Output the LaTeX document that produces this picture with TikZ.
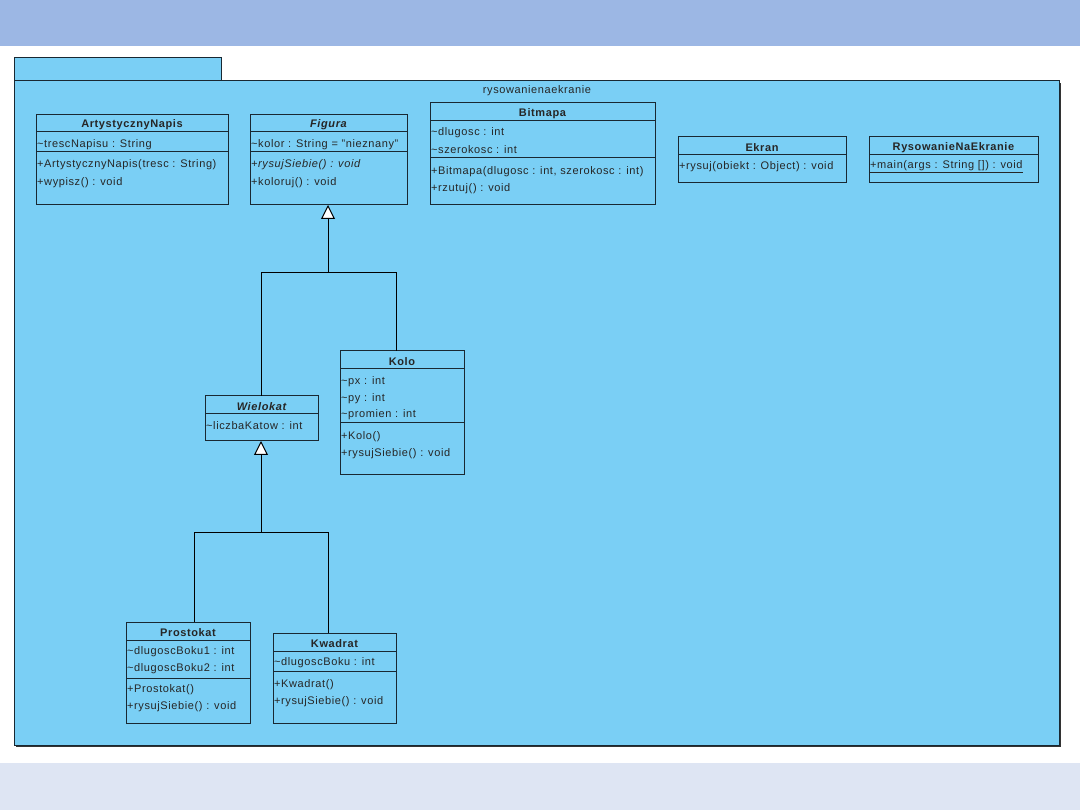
\documentclass[tikz,border=0pt]{standalone}
\usepackage{fontspec}
\setmainfont{Liberation Sans}[LetterSpace=5.5]
\usetikzlibrary{arrows.meta,calc}
\definecolor{topband}{RGB}{156,183,228}
\definecolor{botband}{RGB}{222,229,243}
\definecolor{pkgfill}{RGB}{122,207,245}
\definecolor{edge}{RGB}{25,40,50}
\tikzset{
  cls/.style={draw=edge, fill=pkgfill, line width=1pt, anchor=north west, inner sep=0pt, outer sep=0pt},
  hdr/.style={font=\fontsize{11}{13}\selectfont\bfseries, inner sep=0pt, text=black!85, yshift=-1.2pt},
  txt/.style={font=\fontsize{11}{13}\selectfont, anchor=west, inner sep=0pt, text=black!85, yshift=-1.2pt},
  sep/.style={draw=edge, line width=1pt},
  gen/.style={draw=black, line width=1pt, -{Triangle[open, length=14pt, width=14pt, fill=white]}},
  genline/.style={draw=black, line width=1pt}
}
\begin{document}
\begin{tikzpicture}[x=1pt,y=-1pt]
\useasboundingbox (0,0) rectangle (1080,810);
% background bands
\fill[topband] (0,0) rectangle (1080,46);
\fill[white] (0,46) rectangle (1080,763);
\fill[botband] (0,763) rectangle (1080,810);
% package
\fill[black!80] (16,83) rectangle (1061,747);
\node[cls, minimum width=207, minimum height=23] (tab) at (14,58) {};
\node[cls, minimum width=1045, minimum height=664] (pkg) at (14,81) {};
\node[font=\fontsize{11}{13}\selectfont, inner sep=0pt, text=black!85, yshift=-1.2pt] (pkgname) at (537,89) {rysowanienaekranie};

% ArtystycznyNapis
\node[cls, minimum width=192, minimum height=90] (artn) at (36,115) {};
\node[hdr] (artnh) at (132,123.5) {ArtystycznyNapis};
\draw[sep] (36,132) -- (228,132);
\draw[sep] (36,152) -- (228,152);
\node[txt] (artna1) at (37,143) {\textasciitilde trescNapisu : String};
\node[txt] (artno1) at (37,163) {+ArtystycznyNapis(tresc : String)};
\node[txt] (artno2) at (37,181) {+wypisz() : void};

% Figura
\node[cls, minimum width=157, minimum height=90] (fig) at (250,115) {};
\node[hdr, font=\fontsize{11}{13}\selectfont\bfseries\itshape] (figh) at (328.5,123.5) {Figura};
\draw[sep] (250,132) -- (407,132);
\draw[sep] (250,152) -- (407,152);
\node[txt] (figa1) at (251,143) {\textasciitilde kolor : String = "nieznany"};
\node[txt, font=\fontsize{11}{13}\selectfont\itshape] (figo1) at (251,163) {+rysujSiebie() : void};
\node[txt] (figo2) at (251,181) {+koloruj() : void};

% Bitmapa
\node[cls, minimum width=225, minimum height=102] (bit) at (430,103) {};
\node[hdr] (bith) at (542.5,112) {Bitmapa};
\draw[sep] (430,121) -- (655,121);
\draw[sep] (430,158) -- (655,158);
\node[txt] (bita1) at (431,131) {\textasciitilde dlugosc : int};
\node[txt] (bita2) at (431,148) {\textasciitilde szerokosc : int};
\node[txt] (bito1) at (431,170) {+Bitmapa(dlugosc : int, szerokosc : int)};
\node[txt] (bito2) at (431,187) {+rzutuj() : void};

% Ekran
\node[cls, minimum width=168, minimum height=46] (ekr) at (678,137) {};
\node[hdr] (ekrh) at (762,146) {Ekran};
\draw[sep] (678,155) -- (846,155);
\node[txt] (ekro1) at (679,165) {+rysuj(obiekt : Object) : void};

% RysowanieNaEkranie
\node[cls, minimum width=169, minimum height=46] (rys) at (869,137) {};
\node[hdr] (rysh) at (953.5,146) {RysowanieNaEkranie};
\draw[sep] (869,155) -- (1038,155);
\node[txt] (ryso1) at (870,165) {\underline{+main(args : String []) : void}};

% Kolo
\node[cls, minimum width=124, minimum height=124] (kolo) at (340,351) {};
\node[hdr] (koloh) at (402,360) {Kolo};
\draw[sep] (340,369) -- (464,369);
\draw[sep] (340,423) -- (464,423);
\node[txt] (koloa1) at (341,380) {\textasciitilde px : int};
\node[txt] (koloa2) at (341,397) {\textasciitilde py : int};
\node[txt] (koloa3) at (341,413) {\textasciitilde promien : int};
\node[txt] (koloo1) at (341,435) {+Kolo()};
\node[txt] (koloo2) at (341,452) {+rysujSiebie() : void};

% Wielokat
\node[cls, minimum width=113, minimum height=45] (wiel) at (205,396) {};
\node[hdr, font=\fontsize{11}{13}\selectfont\bfseries\itshape] (wielh) at (261.5,405) {Wielokat};
\draw[sep] (205,414) -- (318,414);
\node[txt] (wiela1) at (206,424) {\textasciitilde liczbaKatow : int};

% Prostokat
\node[cls, minimum width=124, minimum height=101] (pros) at (126,622) {};
\node[hdr] (prosh) at (188,631) {Prostokat};
\draw[sep] (126,640) -- (250,640);
\draw[sep] (126,678) -- (250,678);
\node[txt] (prosa1) at (127,650) {\textasciitilde dlugoscBoku1 : int};
\node[txt] (prosa2) at (127,667) {\textasciitilde dlugoscBoku2 : int};
\node[txt] (proso1) at (127,688) {+Prostokat()};
\node[txt] (proso2) at (127,705) {+rysujSiebie() : void};

% Kwadrat
\node[cls, minimum width=123, minimum height=90] (kwad) at (273,633) {};
\node[hdr] (kwadh) at (334.5,642) {Kwadrat};
\draw[sep] (273,651) -- (396,651);
\draw[sep] (273,671) -- (396,671);
\node[txt] (kwada1) at (274,661) {\textasciitilde dlugoscBoku : int};
\node[txt] (kwado1) at (274,683) {+Kwadrat()};
\node[txt] (kwado2) at (274,700) {+rysujSiebie() : void};

% generalizations
\coordinate (j1) at (328,273);
\coordinate (j2) at (261,532);
\draw[genline] (wiel.north -| 261,0) |- (j1);
\draw[genline] (kolo.north -| 396,0) |- (j1);
\draw[gen] (j1) -- (fig.south -| j1);
\draw[genline] (pros.north -| 194,0) |- (j2);
\draw[genline] (kwad.north -| 328,0) |- (j2);
\draw[gen] (j2) -- (wiel.south -| j2);
\end{tikzpicture}
\end{document}
